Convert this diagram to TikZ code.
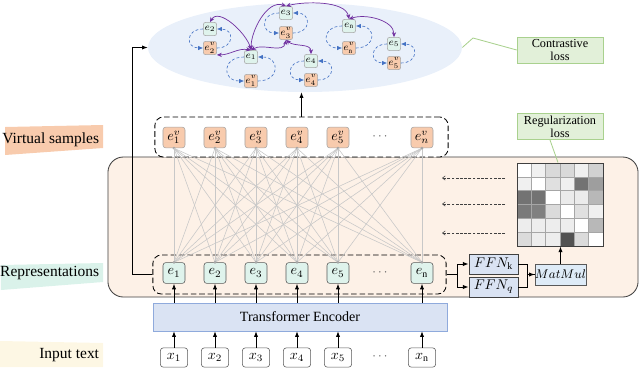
\documentclass[tikz,border=0pt]{standalone}
\usepackage{fontspec}
\setmainfont{Liberation Serif}
\usetikzlibrary{arrows.meta,positioning,shapes.geometric}
\definecolor{rsdark}{HTML}{404040}
\definecolor{rsgray}{HTML}{595959}
\definecolor{rslight}{HTML}{A6A6A6}
\definecolor{rsmint}{HTML}{DFF3EC}
\definecolor{rsorange}{HTML}{F8CBAD}
\definecolor{rspeach}{HTML}{FDF1E7}
\definecolor{rssky}{HTML}{E9F0FA}
\definecolor{rsblue}{HTML}{DAE3F3}
\definecolor{rsblueline}{HTML}{8FAADC}
\definecolor{rsmatmul}{HTML}{DEEBF7}
\definecolor{rsgreen}{HTML}{E2F0D9}
\definecolor{rsgreenline}{HTML}{A9D18E}
\definecolor{rspurple}{HTML}{7030A0}
\definecolor{rsloop}{HTML}{4472C4}
\definecolor{rsmesh}{HTML}{C8C8C8}
\definecolor{rsgrid}{HTML}{A6A6A6}
\definecolor{rsbanv}{HTML}{F8CBAD}
\definecolor{rsbanr}{HTML}{DAF2EA}
\definecolor{rsbani}{HTML}{FDF7E4}
\tikzstyle{repnode}=[draw=rsgray,fill=rsmint,rounded corners=2pt,minimum width=0.55cm,minimum height=0.52cm,inner sep=0pt,font=\normalsize]
\tikzstyle{virtnode}=[draw=rslight,fill=rsorange,rounded corners=2pt,minimum width=0.55cm,minimum height=0.52cm,inner sep=0pt,font=\normalsize]
\tikzstyle{inputnode}=[draw=rsgray,fill=white,rounded corners=2pt,minimum width=0.68cm,minimum height=0.48cm,inner sep=0pt,font=\normalsize]
\tikzstyle{smallrep}=[draw=rslight,fill=rsmint,rounded corners=1.5pt,minimum size=0.33cm,inner sep=0pt,font=\fontsize{7}{8}\selectfont]
\tikzstyle{smallvirt}=[draw=rslight,fill=rsorange,rounded corners=1.5pt,minimum size=0.33cm,inner sep=0pt,font=\fontsize{7}{8}\selectfont]
\tikzstyle{ffnbox}=[draw=rsdark,fill=rsblue,minimum width=1.23cm,minimum height=0.5cm,inner sep=0pt,font=\normalsize]
\tikzstyle{lossbox}=[draw=rsgreenline,fill=rsgreen,minimum width=2.15cm,minimum height=0.66cm,inner sep=0pt,align=center,font=\fontsize{8.7}{9.4}\selectfont]
\tikzstyle{groupbox}=[draw=black,dash pattern=on 4pt off 2pt,rounded corners=6pt,line width=0.6pt,inner sep=0pt]
\tikzstyle{arr}=[-{Latex[length=4pt,width=3pt]},black,line width=0.6pt]
\tikzstyle{loopline}=[rsloop,dash pattern=on 2pt off 1.5pt,-{Latex[length=3.5pt,width=3pt]},line width=0.45pt]
\tikzstyle{linkline}=[rspurple,{Stealth[length=3.5pt,width=3pt]}-{Stealth[length=3.5pt,width=3pt]},line width=0.5pt]
\tikzstyle{meshline}=[rsmesh,line width=0.4pt]
\tikzstyle{dasharr}=[rsdark,dash pattern=on 2pt off 1pt,-{Straight Barb[length=2pt,width=3pt]},line width=0.4pt]
\begin{document}
\begin{tikzpicture}[x=0.025cm,y=-0.025cm]
    \useasboundingbox (0,0) rectangle (640,371);
    \fill[rsbanv] (5,127) -- (103,125) -- (103,148) -- (5,155) -- cycle;
    \fill[rsbanr] (1,265) -- (103,263) -- (103,282) -- (1,290) -- cycle;
    \fill[rsbani] (0,341) -- (103,343) -- (103,367) -- (0,367) -- cycle;
    \node[anchor=east,font=\fontsize{11}{13}\selectfont] (lblv) at (104,140) {Virtual samples};
    \node[anchor=east,font=\fontsize{11}{13}\selectfont] (lblr) at (104,273) {Representations};
    \node[anchor=east,font=\fontsize{11}{13}\selectfont] (lbli) at (104,355) {Input text};
    \node[draw=rsdark,fill=rspeach,rounded corners=11pt,line width=0.6pt,minimum width=13.25cm,minimum height=3.5cm] (bigbox) at (373,227) {};
    \node[groupbox,fill=white,minimum width=7.33cm,minimum height=1cm] (vbox) at (301.5,137) {};
    \node[groupbox,minimum width=7.33cm,minimum height=0.975cm] (rbox) at (299.5,274.5) {};
    \node[draw=rsblueline,fill=rsblue,minimum width=7.35cm,minimum height=0.7cm,font=\fontsize{10}{12}\selectfont] (enc) at (300,317) {Transformer Encoder};
    \foreach \i/\xx/\lab in {1/174/1,2/215/2,3/256/3,4/297/4,5/338/5,n/422/\mathrm{n}} {
        \node[virtnode] (ev\i) at (\xx,137.5) {$e^{v}_{\i}$};
        \node[repnode] (e\i) at (\xx,273) {$e_{\lab}$};
        \node[inputnode] (x\i) at (\xx,357.5) {$x_{\lab}$};
        \draw[arr] (x\i.north) -- (x\i.north |- enc.south);
        \draw[arr] (x\i.north |- enc.north) -- (e\i.south);
    }
    \foreach \yy/\nm in {137/dotsv,273/dotsr,357/dotsi} {\node[text=rsgray,font=\small] (\nm) at (380,\yy) {$\cdots$};}
    \foreach \i in {1,2,3,4,5,n} {
        \foreach \j in {1,2,3,4,5,n} {\draw[meshline] (e\i.north) -- (ev\j.south);}
        \fill[rslight] (ev\i.south) circle (1.1pt);
        \fill[rslight] (e\i.north) circle (1.1pt);
    }
    \node[ellipse,fill=rssky,minimum width=7.85cm,minimum height=2.225cm,inner sep=0pt] (ell) at (305,47.5) {};
    \foreach \i/\lab/\xx/\yy/\yv in {1/1/251/57/81,2/2/210/29/48,3/3/286/13/33,4/4/311/61/80,5/5/394/44/63,n/\mathrm{n}/349/26/48} {
        \node[smallrep] (p\i) at (\xx,\yy) {$e_{\lab}$};
        \node[smallvirt] (pv\i) at (\xx,\yv) {$e^{v}_{\lab}$};
        \draw[loopline] (p\i.west) to[out=180,in=180,looseness=2.4] (pv\i.west);
        \draw[loopline] (pv\i.east) to[out=0,in=0,looseness=2.4] (p\i.east);
    }
    \draw[linkline] (p1.north) to[out=105,in=60,looseness=0.9] (p2.north);
    \draw[linkline] (p1.north) to[out=170,in=0] (pv2.south east);
    \draw[linkline] (p1.north) to[out=90,in=160,looseness=0.9] (p3.north);
    \draw[linkline] (p1.north) to[out=30,in=-100] (pv3.south);
    \draw[linkline] (pv3.south) to[out=-40,in=90] (p4.north);
    \draw[linkline] (p3.north) to[out=15,in=100,looseness=0.75] (pn.north);
    \draw[linkline] (pn.north) to[out=20,in=90,looseness=0.9] (p5.north);
    \draw[arr] (rbox.west) -- ++(-20,0) |- (ell.west);
    \draw[arr] (vbox.north) -- (vbox.north |- ell.south);
    \node[lossbox] (cl) at (560,50) {Contrastive\\loss};
    \coordinate (clbend) at (473,38);
    \draw[rsgreenline,line width=0.6pt] (ell.east) -- (clbend) -- (cl.west);
    \node[lossbox] (rl) at (560,126.5) {Regularization\\loss};
    \foreach \row [count=\r] in {{0,6,15,15,6,18},{6,0,12,6,55,38},{55,55,0,8,8,28},{52,50,14,0,12,6},{7,7,7,7,0,28},{14,7,7,68,14,0}} {
        \foreach \val [count=\c] in \row {\filldraw[draw=rsgrid,fill=black!\val,line width=0.4pt] ({517+(\c-1)*14.333},{163+(\r-1)*13.833}) rectangle ++(14.333,13.833);}
    }
    \node[draw=rsdark,line width=0.6pt,minimum width=2.15cm,minimum height=2.075cm,inner sep=0pt] (mat) at (560,204.5) {};
    \draw[rsgreenline,line width=0.6pt] ([xshift=-0.25cm]rl.south) -- ([xshift=-0.05cm]mat.north);
    \foreach \yy [count=\k] in {178,204,233} {
        \coordinate (da\k) at (505,\yy);
        \coordinate (db\k) at (442,\yy);
        \draw[dasharr] (da\k) -- (db\k);
    }
    \node[ffnbox] (ffnk) at (493.5,264) {$FFN_{\mathrm{k}}$};
    \node[ffnbox] (ffnq) at (493.5,287) {$FFN_{q}$};
    \node[draw=rsgray,fill=rsmatmul,minimum width=1.23cm,minimum height=0.52cm,inner sep=0pt,font=\small] (matmul) at (560.5,274.5) {$MatMul$};
    \draw[arr] (rbox.east) -- ++(11,0) coordinate (split) |- (ffnk.west);
    \draw[arr] (split) |- (ffnq.west);
    \draw[black,line width=0.6pt] (ffnk.east) -- ++(9,0) |- (matmul.west);
    \draw[arr] (ffnq.east) -- ++(9,0) |- (matmul.west);
    \draw[arr] (matmul.north) -- (matmul.north |- mat.south);
  \end{tikzpicture}
\end{document}
